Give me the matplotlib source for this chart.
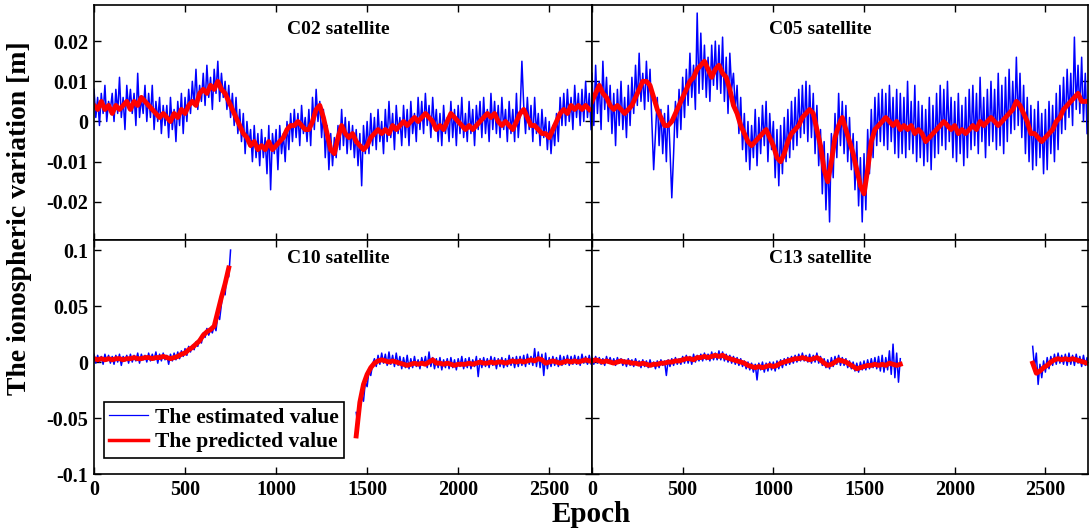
import numpy as np
import matplotlib.pyplot as plt
from matplotlib.ticker import FuncFormatter

plt.rcParams['font.family'] = ['Liberation Serif', 'DejaVu Serif']
plt.rcParams['font.weight'] = 'bold'

# all values in mm, estimated every 10 epochs, predicted every 20 epochs
EST_STEP = 10
PRED_STEP = 20

c02_est = [8,1,6,-1,7,2,9,0,5,3,
           7,0,8,2,11,1,6,-2,9,3,
           8,2,7,-1,12,1,6,2,9,0,
           7,1,9,-2,5,0,6,-3,4,-1,
           4,-4,6,-2,3,-5,5,-1,7,-3,
           6,0,8,2,10,4,13,3,9,5,
           12,4,14,6,11,3,13,7,15,5,
           12,6,10,3,9,1,7,-1,6,-3,
           3,-5,2,-8,0,-6,-2,-10,-1,-9,
           -3,-11,-2,-9,-4,-13,-1,-17,-3,-8,
           -2,-12,-1,-8,-3,-10,0,-7,2,-5,
           3,-4,2,-6,4,-3,1,-5,3,-6,
           6,-2,8,0,5,-4,3,-9,-1,-12,
           -3,-11,-4,-9,-1,-7,3,-6,1,-8,
           0,-7,-1,-9,-2,-11,-3,-16,-1,-8,
           0,-8,2,-6,1,-7,3,-5,0,-8,
           3,-5,5,-4,2,-7,4,-3,1,-6,
           4,-4,3,-6,5,-3,2,-5,6,-2,
           5,-3,7,-1,4,-4,6,-2,3,-5,
           2,-6,4,-3,1,-5,5,-4,3,-6,
           4,-3,6,-4,2,-5,5,-3,3,-6,
           4,-2,5,-4,6,-3,3,-5,7,-2,
           5,-3,4,-4,6,-2,3,-5,5,-3,
           3,-5,7,-4,2,15,4,-3,6,-2,
           4,-5,6,-3,2,-6,3,-4,1,-7,
           0,-8,-1,-6,2,-5,6,-1,7,-1,
           8,0,6,-2,9,1,7,-1,8,0,
           10,1,7,-2]
c02_pred = [4,3,5,3,4,2,4,3, 4,5,3,5,4,6,5, 4,3,2,1,2,1, 0,2,1,3,2,4,
            5,4,7,8,7,9,8, 10,8,7,5,3,1, -1,-3,-4,-6,-5,-7, -6,-7,-5,-7,-6,
            -5,-4,-2,-1,-1,0, -1,-2,-2,0,3, 4,1,-3,-7,-8,-4, -1,-3,-4,-3,-5,-6,
            -7,-6,-4,-3,-2,-3, -2,-3,-1,-2,-1,0, -1,0,1,0,1,2, 1,0,-2,-1,-2,0,
            2,1,0,-1,-2,-1, -2,-1,0,1,2,1, 2,0,-1,0,-1,-2, 0,2,3,1,-1,-1,
            -2,-3,-3,-4,-2,0, 2,3,2,4,3,4, 3,4,3]

c05_est = [12,-1,14,2,10,-2,15,3,11,0,
           9,-3,7,-6,8,-1,10,-2,6,-4,
           9,-1,11,2,14,4,17,5,12,3,
           15,5,13,0,-12,-3,6,-6,3,-8,
           2,-10,4,-7,-19,-8,5,-4,8,-2,
           11,1,13,4,17,6,14,3,27,7,
           22,8,19,6,16,5,19,9,20,8,
           19,7,21,5,16,2,17,8,12,3,
           9,-3,6,-7,2,-10,0,-12,-1,-9,
           3,-11,1,-8,4,-6,5,-10,2,-7,
           0,-14,-2,-16,-1,-13,1,-10,3,-9,
           5,-7,6,-6,8,-4,9,-3,10,-5,
           9,-4,7,-8,4,-11,-2,-18,-5,-22,
           -8,-25,-3,-14,2,-9,7,-6,5,-8,
           4,-10,1,-12,-3,-17,-5,-21,-9,-25,
           -8,-22,-2,-13,3,-9,6,-6,7,-5,
           8,-6,7,-7,9,-5,6,-8,8,-9,
           7,-8,6,-9,10,-7,5,-8,9,-10,
           5,-9,4,-11,3,-10,6,-12,4,-9,
           7,-8,9,-6,8,-7,10,-5,6,-9,
           5,-10,7,-8,4,-11,6,-9,8,-7,
           9,-6,7,-8,11,-5,6,-9,8,-6,
           10,-5,8,-7,12,-6,9,-8,11,-5,
           13,-3,10,-2,16,-1,12,-4,9,-8,
           6,-10,4,-12,3,-11,5,-9,2,-13,
           3,-12,5,-8,4,-10,7,-7,9,-3,
           11,-2,13,1,12,-1,21,3,14,2,
           16,0,12,-3]
c05_pred = [5,7,9,7,6,4,3,4, 3,2,3,4,6,8,10, 10,9,6,3,1,-1, -1,0,2,4,6,8,
            10,11,13,14,15,13,11, 13,14,12,11,8,4, 2,-1,-3,-5,-6,-5, -4,-3,-2,-4,-6,
            -9,-10,-8,-5,-3,-2, -1,1,2,3,2, -2,-6,-12,-15,-10,-4, -1,1,-2,-5,-8,-12,
            -16,-18,-12,-5,-2,-1, 0,1,0,-1,0,-2, -1,-2,-1,-3,-2,-3, -5,-4,-3,-2,-1,0,
            -1,-2,-1,-3,-2,-3, -2,-1,-2,0,-1,0, 1,0,-1,0,1,2, 3,5,4,2,0,-3,
            -3,-4,-5,-4,-3,-2, 0,1,3,4,5,6, 7,5,5]

# C10: two arcs, the second one starting at epoch 1440
c10_start_b = 1440
c10_est_a = [7,-1,6,0,5,-2,7,1,6,-1,
             5,-2,6,0,7,-3,5,1,6,-1,
             7,0,6,1,8,-1,7,2,6,0,
             8,1,7,2,9,-1,7,1,8,2,
             6,-2,7,1,8,2,9,3,10,5,
             12,6,14,9,15,11,18,14,21,17,
             26,22,30,24,29,26,33,28,42,38,
             52,65,60,80,76,100]
c10_pred_a = [3,2,3,2,3,2,3,3,2,3,
              3,4,3,3,4,4,3,4,4,5,
              4,3,4,5,7,8,11,13,16,19,
              24,27,29,32,45,58,70,84]
c10_est_b = [-45,-58,-40,-30,-35,-18,-22,-8,-12,-2,
             3,-4,6,-2,8,-1,7,-3,9,-2,
             6,-4,8,-3,5,-6,4,-5,6,-6,
             3,-5,5,-4,2,-6,4,-3,5,-5,
             9,-4,4,-6,3,-5,4,-7,2,-5,
             3,-6,4,-5,2,-7,3,-4,5,-6,
             3,-5,4,-6,2,-4,5,-13,3,-5,
             4,-4,3,-5,5,-3,4,-6,3,-4,
             4,-5,3,-4,6,-3,4,-5,5,-4,
             5,-3,6,-4,7,-2,5,-3,12,-4,
             9,-5,7,-12,8,-6,4,-4,5,-3,
             4,-4,6,-3,5,-2,6,-3,5,-2,
             6,-2,5,-3,7,-1,5,-2,6,-2,
             4]
c10_pred_b = [-66,-36,-20,-11,-5,-1,1,2,1,0,
              1,0,-1,-2,-3,-2,-1,-2,-1,-2,
              0,2,-1,-1,-2,-1,-2,-3,-2,-2,
              -2,-1,-2,-1,0,-1,-1,0,-1,0,
              0,-1,0,1,0,1,0,1,2,1,
              3,2,-1,0,1,0,-1,0,1,0,
              1,0,1,2,1,1]

# C13: gap between epoch 1700 and 2430
c13_start_b = 2430
c13_est_a = [4,-2,5,-1,4,-2,3,-3,5,-1,
             4,-2,3,-3,4,-1,3,-3,2,-4,
             3,-3,2,-4,3,-2,1,-5,2,-4,
             1,-5,2,-4,0,-6,1,-5,2,-3,
             1,-12,2,-4,3,-3,4,-2,3,-2,
             5,-1,6,-1,5,-2,7,0,6,1,
             7,1,8,2,7,1,9,2,8,2,
             10,2,9,1,7,0,6,-1,5,-2,
             4,-3,3,-4,1,-6,0,-7,-1,-9,
             -2,-16,-1,-7,0,-9,-1,-8,0,-7,
             0,-8,1,-6,2,-5,3,-3,4,-2,
             5,-1,6,0,7,1,8,1,6,0,
             7,-1,6,0,8,-1,5,-3,3,-5,
             2,-6,4,-4,5,-2,6,-3,4,-3,
             3,-5,1,-6,0,-8,-1,-9,0,-7,
             1,-7,2,-6,3,-5,4,-6,5,-8,
             6,-9,4,-7,10,-11,16,-14,8,-18,
             3]
c13_pred_a = [1,2,1,0,1,0,-1,0,1,0,
              0,-1,-1,-2,-1,-2,-3,-2,-2,-1,
              -1,0,0,1,1,2,3,3,2,4,
              4,5,4,5,6,5,6,4,3,2,
              1,0,-1,-3,-4,-5,-4,-5,-4,-3,
              -4,-3,-1,0,1,2,3,3,4,3,
              2,3,4,2,-1,-3,-2,0,2,1,
              0,-2,-4,-6,-5,-4,-3,-3,-2,-3,
              -2,-3,-1,-2,-3,-2]
c13_est_b = [14,-5,8,-20,-2,-14,1,-9,4,-6,
             5,-3,7,-2,8,-1,6,-2,7,-3,
             8,-2,6,-3,7,-1,5,-4,6,-3,
             4,-2]
c13_pred_b = [-1,-10,-8,-5,-3,0,2,3,2,3,2,3,2,1,0,-1]

x_ticks = [0, 500, 1000, 1500, 2000, 2500]
top_yticks = [0.02, 0.01, 0, -0.01, -0.02]
bot_yticks = [0.1, 0.05, 0, -0.05, -0.1]


def plot_part(ax, start, est, pred):
    xe = start + np.arange(len(est)) * EST_STEP
    xp = start + np.arange(len(pred)) * PRED_STEP
    l1, = ax.plot(xe, np.array(est) / 1000.0, color='#0000ff', lw=1.1)
    l2, = ax.plot(xp, np.array(pred) / 1000.0, color='#ff0000', lw=3.5)
    return l1, l2


fig = plt.figure(figsize=(10.9, 5.32), dpi=100)
W, H = 1090.0, 532.0
ax02 = fig.add_axes([94 / W, 1 - 240 / H, 498 / W, 235 / H])
ax05 = fig.add_axes([592 / W, 1 - 240 / H, 496 / W, 235 / H])
ax10 = fig.add_axes([94 / W, 1 - 474 / H, 498 / W, 234 / H])
ax13 = fig.add_axes([592 / W, 1 - 474 / H, 496 / W, 234 / H])

plot_part(ax02, 0, c02_est, c02_pred)
plot_part(ax05, 0, c05_est, c05_pred)
h_est, h_pred = plot_part(ax10, 0, c10_est_a, c10_pred_a)
plot_part(ax10, c10_start_b, c10_est_b, c10_pred_b)
plot_part(ax13, 0, c13_est_a, c13_pred_a)
plot_part(ax13, c13_start_b, c13_est_b, c13_pred_b)

fmt = FuncFormatter(lambda v, p: '{:g}'.format(round(v, 4)))
for ax in [ax02, ax05, ax10, ax13]:
    ax.set_xlim(0, 2735)
    ax.set_xticks(x_ticks)
    ax.tick_params(direction='in', top=True, right=True, length=5, width=1,
                   labelsize=14.5, pad=4)
    ax.yaxis.set_major_formatter(fmt)
    for s in ax.spines.values():
        s.set_linewidth(1.2)

for ax in [ax02, ax05]:
    ax.set_ylim(-0.0295, 0.029)
    ax.set_yticks(top_yticks)
    ax.tick_params(labelbottom=False)
for ax in [ax10, ax13]:
    ax.set_ylim(-0.1, 0.109)
    ax.set_yticks(bot_yticks)
for ax in [ax05, ax13]:
    ax.tick_params(labelleft=False)

ax02.text(0.49, 0.896, 'C02 satellite', transform=ax02.transAxes, ha='center', va='center', fontsize=14)
ax05.text(0.46, 0.896, 'C05 satellite', transform=ax05.transAxes, ha='center', va='center', fontsize=14)
ax10.text(0.49, 0.921, 'C10 satellite', transform=ax10.transAxes, ha='center', va='center', fontsize=14)
ax13.text(0.46, 0.921, 'C13 satellite', transform=ax13.transAxes, ha='center', va='center', fontsize=14)

leg = ax10.legend([h_est, h_pred], ['The estimated value', 'The predicted value'],
                  loc='lower left', bbox_to_anchor=(0.02, 0.07), borderaxespad=0,
                  fontsize=15.5, fancybox=False, framealpha=1, edgecolor='black',
                  handlelength=1.8, handletextpad=0.3, labelspacing=0.2, borderpad=0.25)
leg.get_frame().set_linewidth(1.2)
leg.get_lines()[0].set_linewidth(0.9)
leg.get_lines()[1].set_linewidth(2.5)

fig.text(20 / W, 1 - 218 / H, 'The ionospheric variation [m]', rotation=90,
         ha='center', va='center', fontsize=20)
fig.text(591 / W, 1 - 515 / H, 'Epoch', ha='center', va='center', fontsize=21)

plt.savefig('out.png', dpi=100)
